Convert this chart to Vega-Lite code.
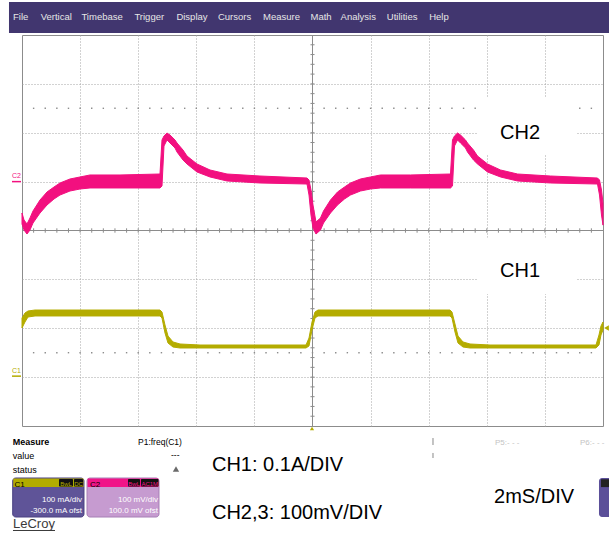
{
  "$schema": "https://vega.github.io/schema/vega-lite/v6.json",
  "width": 581,
  "height": 391,
  "autosize": {"type": "none"},
  "padding": {"left": 22, "top": 35, "right": 6, "bottom": 107},
  "background": "white",
  "config": {
    "font": "Liberation Sans",
    "view": {"stroke": "#8c8c8c", "strokeWidth": 1},
    "axis": {"labels": false, "ticks": false, "domain": false, "title": null, "grid": true, "gridColor": "#a4a4a4", "gridDash": [1, 2], "gridWidth": 1}
  },
  "datasets": {
    "ch2": [
      {"t": 0, "hi": 0.358, "lo": 0.133}, {"t": 0.069, "hi": 0.215, "lo": 0.01}, {"t": 0.172, "hi": 0.133, "lo": -0.072},
      {"t": 0.275, "hi": 0.256, "lo": 0.01}, {"t": 0.379, "hi": 0.399, "lo": 0.153}, {"t": 0.62, "hi": 0.624, "lo": 0.358},
      {"t": 0.861, "hi": 0.788, "lo": 0.522}, {"t": 1.102, "hi": 0.89, "lo": 0.645}, {"t": 1.308, "hi": 0.972, "lo": 0.726},
      {"t": 1.652, "hi": 1.054, "lo": 0.808}, {"t": 1.997, "hi": 1.095, "lo": 0.849}, {"t": 2.341, "hi": 1.136, "lo": 0.87},
      {"t": 3.373, "hi": 1.136, "lo": 0.87}, {"t": 4.75, "hi": 1.156, "lo": 0.87}, {"t": 4.819, "hi": 1.852, "lo": 0.91},
      {"t": 4.888, "hi": 1.934, "lo": 1.729}, {"t": 4.991, "hi": 1.995, "lo": 1.852}, {"t": 5.095, "hi": 1.954, "lo": 1.79},
      {"t": 5.267, "hi": 1.852, "lo": 1.688}, {"t": 5.336, "hi": 1.79, "lo": 1.606}, {"t": 5.542, "hi": 1.647, "lo": 1.442},
      {"t": 5.68, "hi": 1.524, "lo": 1.361}, {"t": 6.024, "hi": 1.361, "lo": 1.197}, {"t": 6.472, "hi": 1.238, "lo": 1.095},
      {"t": 7.057, "hi": 1.156, "lo": 1.013}, {"t": 8.193, "hi": 1.115, "lo": 0.972}, {"t": 9.811, "hi": 1.074, "lo": 0.951},
      {"t": 9.88, "hi": 1.033, "lo": 0.726}, {"t": 9.948, "hi": 0.829, "lo": 0.317}, {"t": 10.017, "hi": 0.522, "lo": 0.051},
      {"t": 10.12, "hi": 0.174, "lo": -0.072}, {"t": 10.275, "hi": 0.256, "lo": 0.01}, {"t": 10.379, "hi": 0.399, "lo": 0.153},
      {"t": 10.62, "hi": 0.624, "lo": 0.358}, {"t": 10.861, "hi": 0.788, "lo": 0.522}, {"t": 11.102, "hi": 0.89, "lo": 0.645},
      {"t": 11.308, "hi": 0.972, "lo": 0.726}, {"t": 11.652, "hi": 1.054, "lo": 0.808}, {"t": 11.997, "hi": 1.095, "lo": 0.849},
      {"t": 12.341, "hi": 1.136, "lo": 0.87}, {"t": 13.373, "hi": 1.136, "lo": 0.87}, {"t": 14.75, "hi": 1.156, "lo": 0.87},
      {"t": 14.819, "hi": 1.852, "lo": 0.91}, {"t": 14.888, "hi": 1.934, "lo": 1.729}, {"t": 14.991, "hi": 1.995, "lo": 1.852},
      {"t": 15.095, "hi": 1.954, "lo": 1.79}, {"t": 15.267, "hi": 1.852, "lo": 1.688}, {"t": 15.336, "hi": 1.79, "lo": 1.606},
      {"t": 15.542, "hi": 1.647, "lo": 1.442}, {"t": 15.68, "hi": 1.524, "lo": 1.361}, {"t": 16.024, "hi": 1.361, "lo": 1.197},
      {"t": 16.472, "hi": 1.238, "lo": 1.095}, {"t": 17.057, "hi": 1.156, "lo": 1.013}, {"t": 18.193, "hi": 1.115, "lo": 0.972},
      {"t": 19.811, "hi": 1.074, "lo": 0.951}, {"t": 19.88, "hi": 1.033, "lo": 0.726}, {"t": 19.948, "hi": 0.829, "lo": 0.317},
      {"t": 20, "hi": 0.56, "lo": 0.11}
    ],
    "ch1": [
      {"t": 0, "hi": -1.791, "lo": -1.995}, {"t": 0.103, "hi": -1.688, "lo": -1.872}, {"t": 0.207, "hi": -1.647, "lo": -1.77},
      {"t": 0.448, "hi": -1.627, "lo": -1.749}, {"t": 4.75, "hi": -1.627, "lo": -1.749}, {"t": 4.819, "hi": -1.668, "lo": -1.79},
      {"t": 4.923, "hi": -1.934, "lo": -2.098}, {"t": 5.026, "hi": -2.159, "lo": -2.302}, {"t": 5.198, "hi": -2.281, "lo": -2.384},
      {"t": 5.439, "hi": -2.322, "lo": -2.404}, {"t": 6.127, "hi": -2.343, "lo": -2.404}, {"t": 9.776, "hi": -2.343, "lo": -2.404},
      {"t": 9.88, "hi": -2.2, "lo": -2.363}, {"t": 9.983, "hi": -1.872, "lo": -2.036}, {"t": 10.086, "hi": -1.668, "lo": -1.79},
      {"t": 10.189, "hi": -1.627, "lo": -1.749}, {"t": 14.733, "hi": -1.627, "lo": -1.749}, {"t": 14.802, "hi": -1.668, "lo": -1.79},
      {"t": 14.905, "hi": -1.913, "lo": -2.077}, {"t": 15.009, "hi": -2.159, "lo": -2.302}, {"t": 15.181, "hi": -2.281, "lo": -2.384},
      {"t": 15.422, "hi": -2.322, "lo": -2.404}, {"t": 16.11, "hi": -2.343, "lo": -2.404}, {"t": 19.759, "hi": -2.343, "lo": -2.404},
      {"t": 19.862, "hi": -2.138, "lo": -2.343}, {"t": 19.931, "hi": -1.954, "lo": -2.138}, {"t": 20, "hi": -1.872, "lo": -2.036}
    ],
    "ticksT": [
      {"t": 0.4}, {"t": 0.8}, {"t": 1.2}, {"t": 1.6}, {"t": 2}, {"t": 2.4}, {"t": 2.8}, {"t": 3.2}, {"t": 3.6}, {"t": 4},
      {"t": 4.4}, {"t": 4.8}, {"t": 5.2}, {"t": 5.6}, {"t": 6}, {"t": 6.4}, {"t": 6.8}, {"t": 7.2}, {"t": 7.6}, {"t": 8},
      {"t": 8.4}, {"t": 8.8}, {"t": 9.2}, {"t": 9.6}, {"t": 10}, {"t": 10.4}, {"t": 10.8}, {"t": 11.2}, {"t": 11.6}, {"t": 12},
      {"t": 12.4}, {"t": 12.8}, {"t": 13.2}, {"t": 13.6}, {"t": 14}, {"t": 14.4}, {"t": 14.8}, {"t": 15.2}, {"t": 15.6}, {"t": 16},
      {"t": 16.4}, {"t": 16.8}, {"t": 17.2}, {"t": 17.6}, {"t": 18}, {"t": 18.4}, {"t": 18.8}, {"t": 19.2}, {"t": 19.6}
    ],
    "ticksY": [
      {"y": -3.8}, {"y": -3.6}, {"y": -3.4}, {"y": -3.2}, {"y": -3}, {"y": -2.8}, {"y": -2.6}, {"y": -2.4}, {"y": -2.2}, {"y": -2},
      {"y": -1.8}, {"y": -1.6}, {"y": -1.4}, {"y": -1.2}, {"y": -1}, {"y": -0.8}, {"y": -0.6}, {"y": -0.4}, {"y": -0.2}, {"y": 0},
      {"y": 0.2}, {"y": 0.4}, {"y": 0.6}, {"y": 0.8}, {"y": 1}, {"y": 1.2}, {"y": 1.4}, {"y": 1.6}, {"y": 1.8}, {"y": 2},
      {"y": 2.2}, {"y": 2.4}, {"y": 2.6}, {"y": 2.8}, {"y": 3}, {"y": 3.2}, {"y": 3.4}, {"y": 3.6}, {"y": 3.8}
    ],
    "menu": [
      {"w": "File", "t": -0.31}, {"w": "Vertical", "t": 0.644}, {"w": "Timebase", "t": 2.045}, {"w": "Trigger", "t": 3.869},
      {"w": "Display", "t": 5.315}, {"w": "Cursors", "t": 6.744}, {"w": "Measure", "t": 8.296}, {"w": "Math", "t": 9.931},
      {"w": "Analysis", "t": 10.967}, {"w": "Utilities", "t": 12.558}, {"w": "Help", "t": 14.017}
    ],
    "one": [{}]
  },
  "layer": [
    {"data": {"name": "ticksT"}, "mark": {"type": "rule", "color": "#8c8c8c"},
     "encoding": {"x": {"field": "t", "type": "quantitative", "scale": {"domain": [0, 20], "nice": false, "zero": false}, "axis": {"values": [2, 4, 6, 8, 12, 14, 16, 18]}},
                  "y": {"datum": -0.045, "type": "quantitative"}, "y2": {"datum": 0.045}}},
    {"data": {"name": "ticksY"}, "mark": {"type": "rule", "color": "#8c8c8c"},
     "encoding": {"y": {"field": "y", "type": "quantitative", "scale": {"domain": [-4, 4], "nice": false, "zero": false}, "axis": {"values": [-3, -2, -1, 1, 2, 3]}},
                  "x": {"datum": 9.93, "type": "quantitative"}, "x2": {"datum": 10.07}}},
    {"data": {"name": "one"}, "mark": {"type": "rule", "color": "#8c8c8c"}, "encoding": {"x": {"datum": 10, "type": "quantitative"}}},
    {"data": {"name": "one"}, "mark": {"type": "rule", "color": "#8c8c8c"}, "encoding": {"y": {"datum": 0, "type": "quantitative"}}},
    {"data": {"name": "ticksT"}, "mark": {"type": "square", "size": 2, "color": "#8c8c8c", "opacity": 1},
     "encoding": {"x": {"field": "t", "type": "quantitative"}, "y": {"datum": 2.5, "type": "quantitative"}}},
    {"data": {"name": "ticksT"}, "mark": {"type": "square", "size": 2, "color": "#8c8c8c", "opacity": 1},
     "encoding": {"x": {"field": "t", "type": "quantitative"}, "y": {"datum": -2.5, "type": "quantitative"}}},
    {"data": {"name": "one"}, "mark": {"type": "rect", "color": "white"},
     "encoding": {"x": {"datum": 15.697, "type": "quantitative"}, "x2": {"datum": 19.105}, "y": {"datum": 2.711, "type": "quantitative"}, "y2": {"datum": 1.565}}},
    {"data": {"name": "one"}, "mark": {"type": "rect", "color": "white"},
     "encoding": {"x": {"datum": 15.697, "type": "quantitative"}, "x2": {"datum": 19.105}, "y": {"datum": -0.15, "type": "quantitative"}, "y2": {"datum": -1.299}}},
    {"data": {"values": [{"s": "CH2", "t": 17.143, "y": 1.872}, {"s": "CH1", "t": 17.143, "y": -0.951}]},
     "mark": {"type": "text", "fontSize": 20, "color": "#000000", "align": "center", "baseline": "alphabetic"},
     "encoding": {"x": {"field": "t", "type": "quantitative"}, "y": {"field": "y", "type": "quantitative"}, "text": {"field": "s"}}},
    {"data": {"name": "ch2"}, "mark": {"type": "area", "color": "#F2107F", "stroke": "#F2107F", "strokeWidth": 1, "interpolate": "linear"},
     "encoding": {"x": {"field": "t", "type": "quantitative"}, "y": {"field": "hi", "type": "quantitative"}, "y2": {"field": "lo"}}},
    {"data": {"name": "ch1"}, "mark": {"type": "area", "color": "#B4AC00", "stroke": "#B4AC00", "strokeWidth": 1, "interpolate": "linear"},
     "encoding": {"x": {"field": "t", "type": "quantitative"}, "y": {"field": "hi", "type": "quantitative"}, "y2": {"field": "lo"}}},
    {"data": {"name": "one"}, "mark": {"type": "text", "text": "C2", "fontSize": 7, "color": "#F2107F", "align": "left", "baseline": "alphabetic"},
     "encoding": {"x": {"datum": -0.344, "type": "quantitative"}, "y": {"datum": 1.074, "type": "quantitative"}}},
    {"data": {"name": "one"}, "mark": {"type": "rule", "color": "#F2107F", "strokeWidth": 1.5},
     "encoding": {"x": {"datum": -0.344, "type": "quantitative"}, "x2": {"datum": -0.034}, "y": {"datum": 1.0, "type": "quantitative"}}},
    {"data": {"name": "one"}, "mark": {"type": "text", "text": "C1", "fontSize": 7, "color": "#B4AC00", "align": "left", "baseline": "alphabetic"},
     "encoding": {"x": {"datum": -0.344, "type": "quantitative"}, "y": {"datum": -2.916, "type": "quantitative"}}},
    {"data": {"name": "one"}, "mark": {"type": "rule", "color": "#B4AC00", "strokeWidth": 1.5},
     "encoding": {"x": {"datum": -0.344, "type": "quantitative"}, "x2": {"datum": -0.034}, "y": {"datum": -2.98, "type": "quantitative"}}},
    {"data": {"name": "one"}, "mark": {"type": "point", "shape": "triangle-up", "filled": true, "size": 18, "color": "#B4AC00", "opacity": 1},
     "encoding": {"x": {"datum": 9.983, "type": "quantitative"}, "y": {"datum": -4.051, "type": "quantitative"}}},
    {"data": {"name": "one"}, "mark": {"type": "point", "shape": "triangle-left", "filled": true, "size": 30, "color": "#B4AC00", "opacity": 1},
     "encoding": {"x": {"datum": 20.12, "type": "quantitative"}, "y": {"datum": -1.995, "type": "quantitative"}}},
    {"data": {"name": "one"}, "mark": {"type": "rect", "color": "#41366F"},
     "encoding": {"x": {"datum": -0.448, "type": "quantitative"}, "x2": {"datum": 20.207}, "y": {"datum": 4.675, "type": "quantitative"}, "y2": {"datum": 4.041}}},
    {"data": {"name": "menu"}, "mark": {"type": "text", "fontSize": 9.5, "color": "#E6E6E6", "align": "left", "baseline": "alphabetic"},
     "encoding": {"x": {"field": "t", "type": "quantitative"}, "y": {"datum": 4.297, "type": "quantitative"}, "text": {"field": "w"}}},
    {"data": {"name": "one"}, "mark": {"type": "text", "text": "Measure", "fontSize": 9, "fontWeight": "bold", "color": "#000000", "align": "left", "baseline": "alphabetic"},
     "encoding": {"x": {"datum": -0.32, "type": "quantitative"}, "y": {"datum": -4.389, "type": "quantitative"}}},
    {"data": {"values": [{"s": "value", "t": -0.32, "y": -4.675}, {"s": "status", "t": -0.32, "y": -4.962}]},
     "mark": {"type": "text", "fontSize": 9, "color": "#000000", "align": "left", "baseline": "alphabetic"},
     "encoding": {"x": {"field": "t", "type": "quantitative"}, "y": {"field": "y", "type": "quantitative"}, "text": {"field": "s"}}},
    {"data": {"values": [{"s": "P1:freq(C1)", "t": 3.993, "y": -4.389}, {"s": "---", "t": 5.129, "y": -4.655}]},
     "mark": {"type": "text", "fontSize": 8.5, "color": "#000000", "align": "left", "baseline": "alphabetic"},
     "encoding": {"x": {"field": "t", "type": "quantitative"}, "y": {"field": "y", "type": "quantitative"}, "text": {"field": "s"}}},
    {"data": {"name": "one"}, "mark": {"type": "point", "shape": "triangle-up", "filled": true, "size": 40, "color": "#6a6a6a", "opacity": 1},
     "encoding": {"x": {"datum": 5.301, "type": "quantitative"}, "y": {"datum": -4.88, "type": "quantitative"}}},
    {"data": {"values": [{"s": "P5:- - -", "t": 16.282, "y": -4.389}, {"s": "P6:- - -", "t": 19.208, "y": -4.389}]},
     "mark": {"type": "text", "fontSize": 8, "color": "#c4c4c4", "align": "left", "baseline": "alphabetic"},
     "encoding": {"x": {"field": "t", "type": "quantitative"}, "y": {"field": "y", "type": "quantitative"}, "text": {"field": "s"}}},
    {"data": {"name": "one"}, "mark": {"type": "rule", "color": "#888888"},
     "encoding": {"x": {"datum": 14.148, "type": "quantitative"}, "y": {"datum": -4.246, "type": "quantitative"}, "y2": {"datum": -4.389}}},
    {"data": {"name": "one"}, "mark": {"type": "rule", "color": "#888888"},
     "encoding": {"x": {"datum": 14.148, "type": "quantitative"}, "y": {"datum": -4.552, "type": "quantitative"}, "y2": {"datum": -4.655}}},
    {"data": {"values": [{"s": "CH1: 0.1A/DIV", "t": 6.54, "y": -4.921}, {"s": "CH2,3: 100mV/DIV", "t": 6.54, "y": -5.903}, {"s": "2mS/DIV", "t": 16.248, "y": -5.575}]},
     "mark": {"type": "text", "fontSize": 20, "color": "#000000", "align": "left", "baseline": "alphabetic"},
     "encoding": {"x": {"field": "t", "type": "quantitative"}, "y": {"field": "y", "type": "quantitative"}, "text": {"field": "s"}}},
    {"data": {"name": "one"}, "mark": {"type": "rect", "color": "#5F5498", "stroke": "#4A4080", "strokeWidth": 1, "cornerRadius": 3},
     "encoding": {"x": {"datum": -0.32, "type": "quantitative"}, "x2": {"datum": 2.134}, "y": {"datum": -5.064, "type": "quantitative"}, "y2": {"datum": -5.862}}},
    {"data": {"name": "one"}, "mark": {"type": "rect", "color": "#B2AC00"},
     "encoding": {"x": {"datum": -0.3, "type": "quantitative"}, "x2": {"datum": 2.114}, "y": {"datum": -5.074, "type": "quantitative"}, "y2": {"datum": -5.248}}},
    {"data": {"name": "one"}, "mark": {"type": "rect", "color": "#C69BD0", "stroke": "#A67FB5", "strokeWidth": 1, "cornerRadius": 3},
     "encoding": {"x": {"datum": 2.238, "type": "quantitative"}, "x2": {"datum": 4.716}, "y": {"datum": -5.064, "type": "quantitative"}, "y2": {"datum": -5.862}}},
    {"data": {"name": "one"}, "mark": {"type": "rect", "color": "#F01488"},
     "encoding": {"x": {"datum": 2.258, "type": "quantitative"}, "x2": {"datum": 4.696}, "y": {"datum": -5.074, "type": "quantitative"}, "y2": {"datum": -5.248}}},
    {"data": {"values": [{"a": 1.274, "b": 1.756}, {"a": 1.79, "b": 2.1}, {"a": 3.649, "b": 4.062}, {"a": 4.096, "b": 4.699}]},
     "mark": {"type": "rect", "color": "#111111", "cornerRadius": 1},
     "encoding": {"x": {"field": "a", "type": "quantitative"}, "x2": {"field": "b"}, "y": {"datum": -5.084, "type": "quantitative"}, "y2": {"datum": -5.238}}},
    {"data": {"values": [{"s": "BwL", "t": 1.515}, {"s": "DC", "t": 1.945}]},
     "mark": {"type": "text", "fontSize": 6, "color": "#B2AC00", "align": "center", "baseline": "alphabetic"},
     "encoding": {"x": {"field": "t", "type": "quantitative"}, "y": {"datum": -5.218, "type": "quantitative"}, "text": {"field": "s"}}},
    {"data": {"values": [{"s": "BwL", "t": 3.855}, {"s": "AC1M", "t": 4.397}]},
     "mark": {"type": "text", "fontSize": 6, "color": "#F01488", "align": "center", "baseline": "alphabetic"},
     "encoding": {"x": {"field": "t", "type": "quantitative"}, "y": {"datum": -5.218, "type": "quantitative"}, "text": {"field": "s"}}},
    {"data": {"values": [{"s": "C1", "t": -0.258}, {"s": "C2", "t": 2.341}]},
     "mark": {"type": "text", "fontSize": 8, "color": "#000000", "align": "left", "baseline": "alphabetic"},
     "encoding": {"x": {"field": "t", "type": "quantitative"}, "y": {"datum": -5.238, "type": "quantitative"}, "text": {"field": "s"}}},
    {"data": {"values": [{"s": "100 mA/div", "t": 2.065, "y": -5.545}, {"s": "-300.0 mA ofst", "t": 2.065, "y": -5.79}, {"s": "100 mV/div", "t": 4.682, "y": -5.545}, {"s": "100.0 mV ofst", "t": 4.682, "y": -5.79}]},
     "mark": {"type": "text", "fontSize": 8, "color": "#FFFFFF", "align": "right", "baseline": "alphabetic"},
     "encoding": {"x": {"field": "t", "type": "quantitative"}, "y": {"field": "y", "type": "quantitative"}, "text": {"field": "s"}}},
    {"data": {"name": "one"}, "mark": {"type": "rect", "color": "#5B4F99", "cornerRadius": 3},
     "encoding": {"x": {"datum": 19.862, "type": "quantitative"}, "x2": {"datum": 20.4}, "y": {"datum": -5.064, "type": "quantitative"}, "y2": {"datum": -5.862}}},
    {"data": {"name": "one"}, "mark": {"type": "rect", "color": "#222222"},
     "encoding": {"x": {"datum": 19.93, "type": "quantitative"}, "x2": {"datum": 20.4}, "y": {"datum": -5.09, "type": "quantitative"}, "y2": {"datum": -5.25}}},
    {"data": {"name": "one"}, "mark": {"type": "text", "text": "LeCroy", "fontSize": 13, "color": "#3a3a3a", "align": "left", "baseline": "alphabetic"},
     "encoding": {"x": {"datum": -0.31, "type": "quantitative"}, "y": {"datum": -6.087, "type": "quantitative"}}},
    {"data": {"name": "one"}, "mark": {"type": "rule", "color": "#3a3a3a", "strokeWidth": 1},
     "encoding": {"x": {"datum": -0.31, "type": "quantitative"}, "x2": {"datum": 1.136}, "y": {"datum": -6.138, "type": "quantitative"}}}
  ]
}
